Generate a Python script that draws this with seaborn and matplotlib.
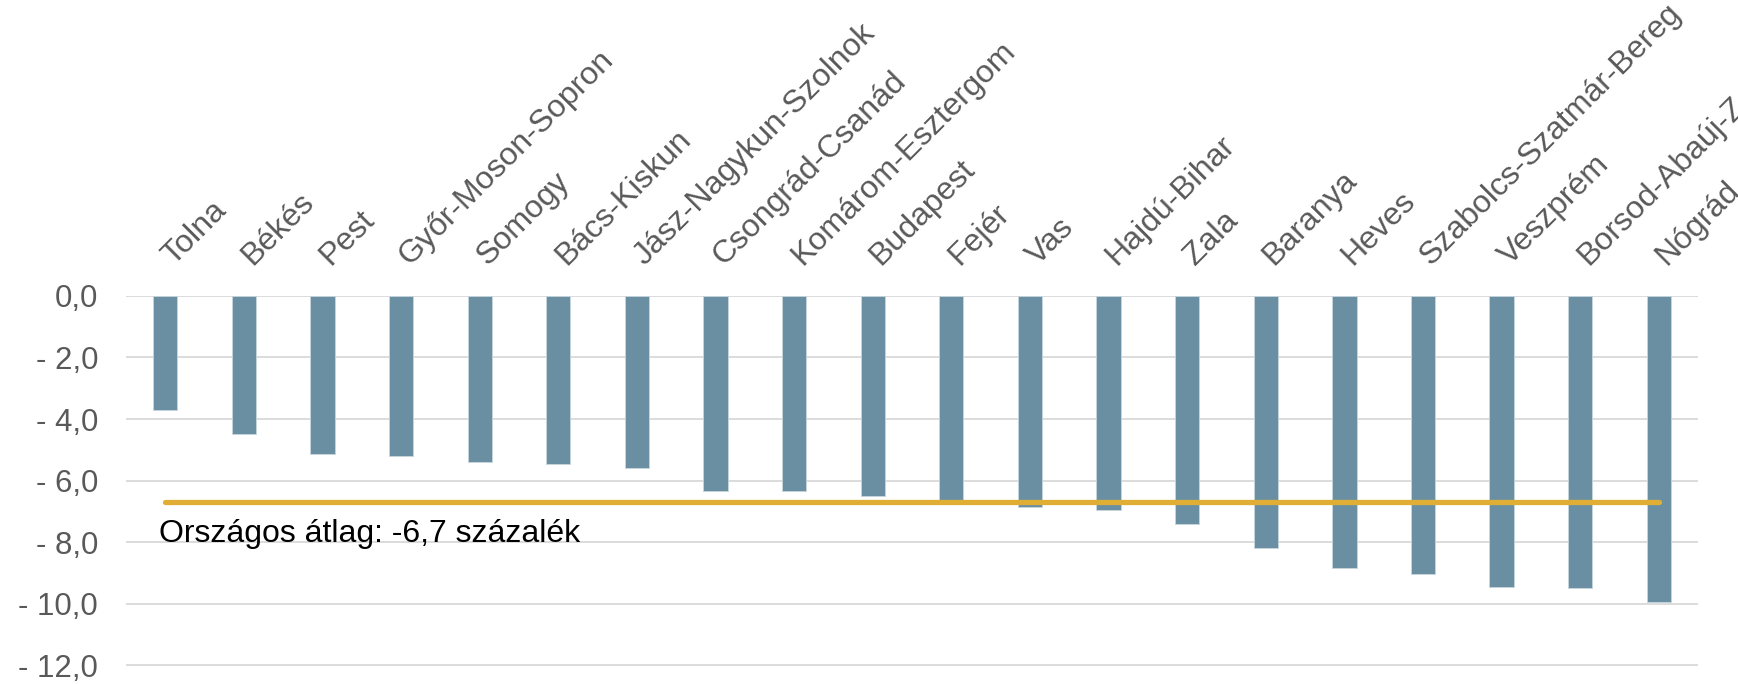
import matplotlib
matplotlib.use("Agg")
import matplotlib.pyplot as plt
import matplotlib.transforms as mtrans
import pandas as pd
import seaborn as sns

# megyék és a változás (százalék)
megyek = ["Tolna", "Békés", "Pest", "Győr-Moson-Sopron", "Somogy", "Bács-Kiskun",
          "Jász-Nagykun-Szolnok", "Csongrád-Csanád", "Komárom-Esztergom", "Budapest",
          "Fejér", "Vas", "Hajdú-Bihar", "Zala", "Baranya", "Heves",
          "Szabolcs-Szatmár-Bereg", "Veszprém", "Borsod-Abaúj-Zemplén", "Nógrád"]
valtozas = [-3.7, -4.5, -5.15, -5.2, -5.4, -5.45, -5.6, -6.35, -6.35, -6.5,
            -6.65, -6.85, -6.95, -7.4, -8.2, -8.85, -9.05, -9.45, -9.5, -9.95]
orszagos_atlag = -6.7
atlag_felirat = "Országos átlag: -6,7 százalék"
y_ticks = [0, -2, -4, -6, -8, -10, -12]
y_labels = ["0,0", "- 2,0", "- 4,0", "- 6,0", "- 8,0", "- 10,0", "- 12,0"]

df = pd.DataFrame({"megye": megyek, "valtozas": valtozas})

sns.set_style("white")
plt.rcParams["font.family"] = ["Liberation Sans", "DejaVu Sans"]

fig = plt.figure(figsize=(17.38, 6.84), dpi=100)
ax = fig.add_axes([0.0725, 0.0253, 0.9045, 0.542])

sns.barplot(data=df, x="megye", y="valtozas", color="#6A8FA3", saturation=1,
            width=0.31, edgecolor="#C9D6DE", linewidth=0.6, ax=ax, zorder=2)

# országos átlag vonal
ax.plot([0, len(megyek) - 1], [orszagos_atlag, orszagos_atlag], color="#E0AE35",
        lw=3.8, solid_capstyle="round", zorder=3)
ax.text(-0.08, -7.75, atlag_felirat, fontsize=23, color="black", va="center", ha="left", zorder=4)

ax.set_xlim(-0.5, len(megyek) - 0.5)
ax.set_ylim(-12.05, 0)
ax.set_yticks(y_ticks)
ax.set_yticklabels(y_labels)
ax.yaxis.grid(True, color="#D9D9D9", lw=1.3, zorder=0)
ax.set_axisbelow(True)

# x tengely feliratai fent, 45 fokban
ax.xaxis.tick_top()
ax.tick_params(axis="x", length=0, pad=18, labelsize=23, labelcolor="#595959")
ax.tick_params(axis="y", length=0, pad=20, labelsize=22.5, labelcolor="#595959")
offset = mtrans.ScaledTranslation(0.13, 0, fig.dpi_scale_trans)
for lab in ax.get_xticklabels():
    lab.set_rotation(45)
    lab.set_ha("left")
    lab.set_va("bottom")
    lab.set_rotation_mode("anchor")
    lab.set_transform(lab.get_transform() + offset)

ax.set_xlabel("")
ax.set_ylabel("")
for s in ax.spines.values():
    s.set_visible(False)

fig.savefig("out.png", dpi=100)
